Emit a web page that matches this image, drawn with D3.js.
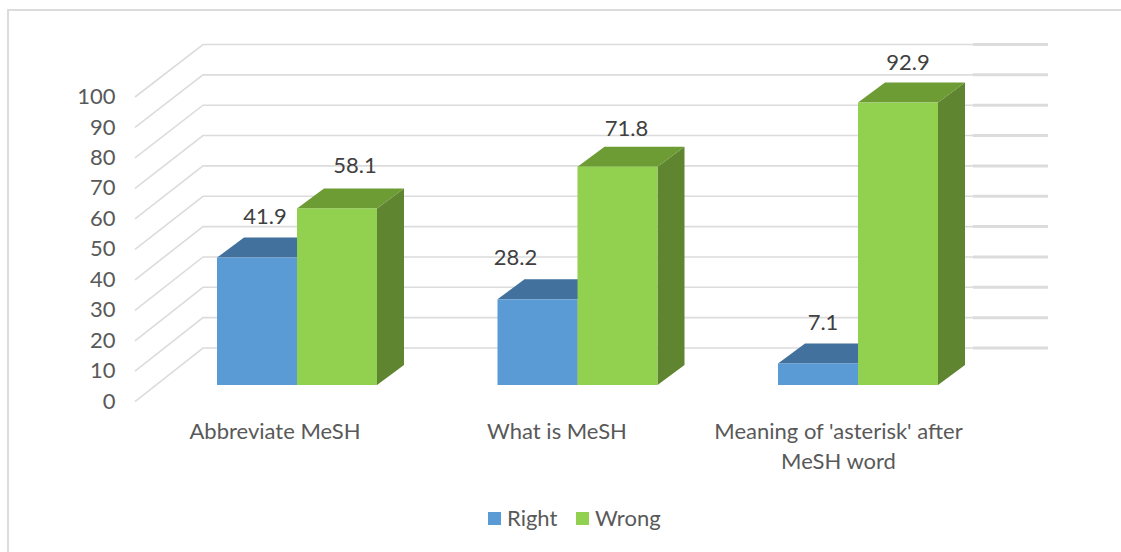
<!DOCTYPE html>
<html>
<head>
<meta charset="utf-8">
<style>
html,body{margin:0;padding:0;background:#fff;}
svg{display:block;font-family:Lato,"Open Sans",sans-serif;}
</style>
<script src="https://cdn.jsdelivr.net/npm/d3@7"></script>
</head>
<body>
<svg id="chart" width="1121" height="552"></svg>
<script>
const categories = ["Abbreviate MeSH", "What is MeSH", "Meaning of 'asterisk' after MeSH word"];
const seriesNames = ["Right", "Wrong"];
const rightValues = [41.9, 28.2, 7.1];
const wrongValues = [58.1, 71.8, 92.9];
const tickValues = [0, 10, 20, 30, 40, 50, 60, 70, 80, 90, 100];

// Hand-placed offsets of the value labels from the top centre of their bars
const rightLabelOffsets = [[8, -39], [-22, -40], [5, -39]];
const wrongLabelOffsets = [[18, -41], [9, -36], [10, -38]];

const colors = {
  Right: {front: "#5b9bd5", top: "#41719c", side: "#3f6f99"},
  Wrong: {front: "#92d050", top: "#6d9c34", side: "#5f8530"}
};

const svg = d3.select("#chart");
const fontSize = 22;

// Frame around the chart: only the top and left edges are visible
svg.append("path")
  .attr("d", "M8,552V10H1121")
  .attr("fill", "none").attr("stroke", "#dcdcdc").attr("stroke-width", 2);

// Value scales for the front plane of the axis and the back wall
const yFront = d3.scaleLinear().domain([0, 100]).range([401.7, 97]);
const yBack = d3.scaleLinear().domain([0, 100]).range([348, 44.5]);
const yBar = d3.scaleLinear().domain([0, 100]).range([385, 81]);

const x0 = d3.scaleBand().domain(categories).range([77, 918.5]);
const x1 = d3.scaleBand().domain(seriesNames).range([140, 300]);
const depthX = 27, depthY = 20;

// Side wall and back wall gridlines
const grid = svg.append("g").attr("fill", "none").attr("stroke", "#dcdcdc");
grid.selectAll("path.wall").data(tickValues).join("path").attr("class", "wall")
  .attr("stroke-width", 1.6)
  .attr("d", d => `M135,${yFront(d)}L203,${yBack(d)}H973`);
grid.selectAll("line.right").data(tickValues).join("line").attr("class", "right")
  .attr("stroke-width", 3)
  .attr("x1", 973).attr("x2", 1048)
  .attr("y1", d => yBack(d)).attr("y2", d => yBack(d));

// Tick labels
svg.append("g").selectAll("text").data(tickValues).join("text")
  .attr("x", 115.5).attr("y", d => yFront(d) + 1.5)
  .attr("text-anchor", "end").attr("dominant-baseline", "middle")
  .attr("font-size", fontSize).attr("fill", "#595959")
  .text(d => d);

// Draws one bar as a front face with a top and a right side
function drawBar(g, name, cat, value) {
  const x = x0(cat) + x1(name);
  const w = x1.bandwidth();
  const y = yBar(value), base = yBar(0);
  const c = colors[name];
  g.append("path").attr("fill", c.side)
    .attr("d", `M${x + w},${y}l${depthX},${-depthY}V${base - depthY}L${x + w},${base}Z`);
  g.append("path").attr("fill", c.top)
    .attr("d", `M${x},${y}l${depthX},${-depthY}h${w}l${-depthX},${depthY}Z`);
  g.append("rect").attr("x", x).attr("y", y).attr("width", w).attr("height", base - y)
    .attr("fill", c.front);
}

const bars = svg.append("g");
categories.forEach((cat, i) => {
  drawBar(bars, "Right", cat, rightValues[i]);
  drawBar(bars, "Wrong", cat, wrongValues[i]);
});

// Value labels above each bar
const labels = svg.append("g").attr("font-size", fontSize).attr("fill", "#404040").attr("text-anchor", "middle");
categories.forEach((cat, i) => {
  [["Right", rightValues[i], rightLabelOffsets[i]], ["Wrong", wrongValues[i], wrongLabelOffsets[i]]]
    .forEach(([name, v, off]) => {
      labels.append("text")
        .attr("x", x0(cat) + x1(name) + x1.bandwidth() / 2 + off[0])
        .attr("y", yBar(v) + off[1])
        .attr("dominant-baseline", "middle")
        .text(v.toFixed(1));
    });
});

// Category labels, wrapped to two lines where needed
const catLines = [["Abbreviate MeSH"], ["What is MeSH"], ["Meaning of 'asterisk' after", "MeSH word"]];
const catCentres = [275, 557, 838.5];
const catText = svg.append("g").attr("font-size", fontSize).attr("fill", "#595959").attr("text-anchor", "middle");
categories.forEach((cat, i) => {
  catLines[i].forEach((line, j) => {
    catText.append("text")
      .attr("x", catCentres[i])
      .attr("y", 433 + j * 30)
      .attr("dominant-baseline", "middle")
      .text(line);
  });
});

// Legend
const legend = svg.append("g").attr("font-size", fontSize).attr("fill", "#595959");
[[488, 507, "Right"], [576, 595, "Wrong"]].forEach(([sx, tx, name]) => {
  legend.append("rect").attr("x", sx).attr("y", 512).attr("width", 13).attr("height", 13)
    .attr("fill", colors[name].front);
  legend.append("text").attr("x", tx).attr("y", 520).attr("dominant-baseline", "middle").text(name);
});
</script>
</body>
</html>
